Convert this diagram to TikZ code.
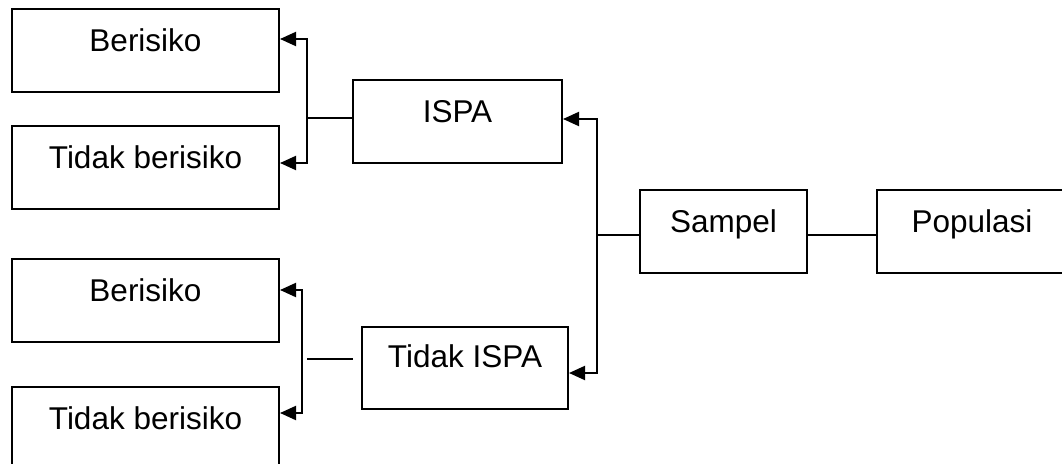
\documentclass[tikz,border=0pt]{standalone}
\usepackage{fontspec}
\setmainfont{Liberation Sans}
\usetikzlibrary{arrows.meta}
\begin{document}
\begin{tikzpicture}[x=1pt,y=-1pt,
  box/.style={draw,line width=2pt,inner sep=0pt,text height=42pt,text depth=41pt,
    font=\fontsize{31.5}{38}\selectfont},
  conn/.style={line width=2pt},
  arr/.style={conn,{Triangle[length=16pt,width=14pt]}-{Triangle[length=16pt,width=14pt]}}]
\useasboundingbox (0,0) rectangle (1062,463);
\clip (0,0) rectangle (1062,463);

\node[box,minimum width=267pt] (b1) at (145.5,50.5) {Berisiko};
\node[box,minimum width=267pt] (b2) at (145.5,167.5) {Tidak berisiko};
\node[box,minimum width=267pt] (b3) at (145.5,300.5) {Berisiko};
\node[box,minimum width=267pt] (b4) at (145.5,428.5) {Tidak berisiko};
\node[box,minimum width=209pt] (ispa) at (457.5,121.5) {ISPA};
\node[box,minimum width=206pt,text height=40pt,text depth=42pt] (tispa) at (465,368) {Tidak ISPA};
\node[box,minimum width=167pt] (sampel) at (723.5,231.5) {Sampel};
\node[box,minimum width=190pt] (pop) at (972,231.5) {Populasi};

\coordinate (j1) at (307,118);
\coordinate (j2) at (597,235);
\coordinate (j3) at (302,359);
\coordinate (l1) at (307,359);
\coordinate (l2) at (353,359);

\draw[arr] ([yshift=11.5pt]b1.east) -| (j1) |- ([yshift=4.5pt]b2.east);
\draw[conn] ([yshift=3.5pt]ispa.west) -- (j1);

\draw[arr] ([yshift=2.5pt]ispa.east) -| (j2) |- ([yshift=-5pt]tispa.east);
\draw[conn] ([yshift=-3.5pt]sampel.west) -- (j2);
\draw[conn] ([yshift=-3.5pt]sampel.east) -- ([yshift=-3.5pt]pop.west);

\draw[arr] ([yshift=10.5pt]b3.east) -| (j3) |- ([yshift=15.5pt]b4.east);
\draw[conn] (l1) -- (l2);
\end{tikzpicture}
\end{document}
